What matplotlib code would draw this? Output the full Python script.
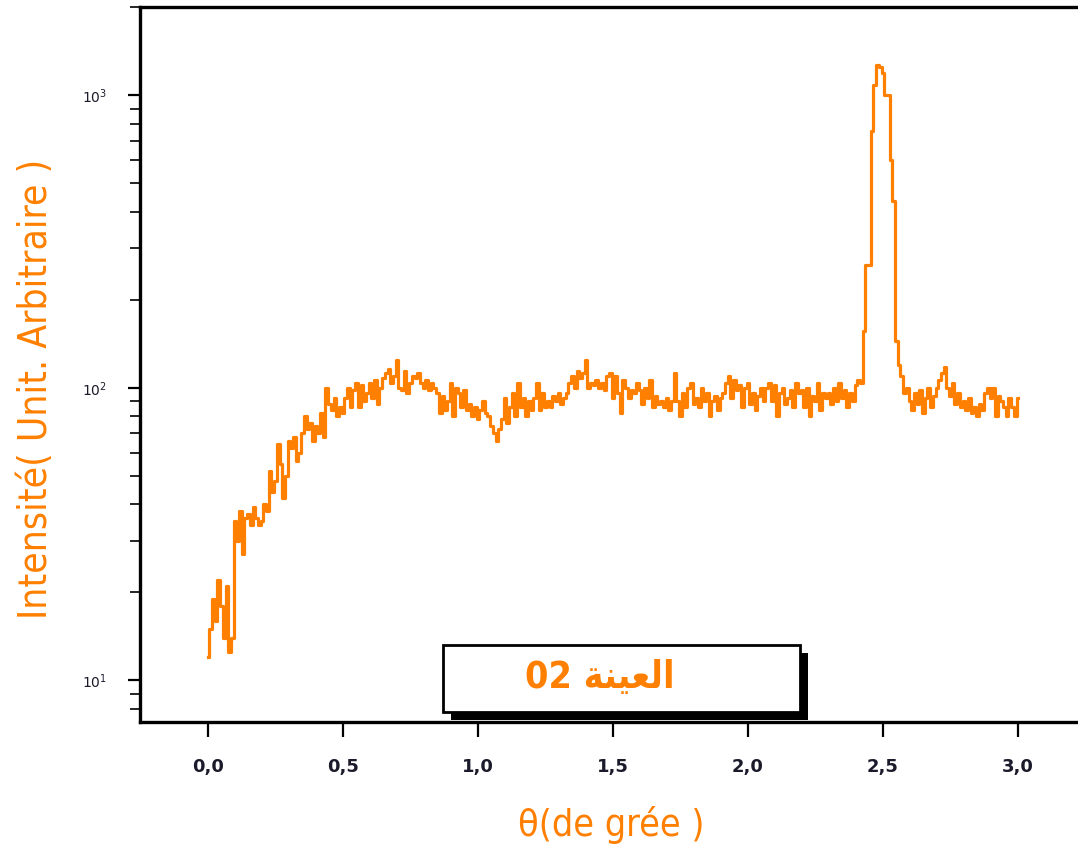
import numpy as np
import matplotlib
matplotlib.use("Agg")
import matplotlib.pyplot as plt
import matplotlib.patheffects as pe
from matplotlib.patches import Rectangle
from matplotlib.ticker import FixedLocator, FixedFormatter

# ==== DATA (one value per 0.01 deg) ====
counts = [
    12, 15, 19, 16, 22, 18, 14, 21, 12.5, 14,
    35, 30, 38, 27, 36,
    37, 34, 39, 36, 34, 35, 40, 38,
    52, 44, 48,
    64, 55, 42, 50,
    66, 62, 68, 56, 60, 70,
    80, 72, 76, 66, 74, 70, 82, 68,
    100, 88, 84, 92, 80, 86, 82,
    92, 100, 86, 98, 104, 86, 102, 90, 96,
    104, 92, 106, 88, 100, 108,
    112, 116, 104, 110, 124, 100, 98, 114, 96, 104, 110, 108,
    112, 104, 100, 106, 98, 104, 100,
    96, 82, 94, 84, 90,
    104, 80, 100, 96, 86, 98, 84,
    88, 80, 86, 78, 84, 90, 82, 80,
    74, 70, 66, 72, 78,
    92, 76, 86, 96, 80,
    104, 86, 92, 80, 90, 84, 92,
    104, 84, 96, 86, 90,
    86, 94, 90, 96, 88, 92, 96,
    104, 110, 100, 114, 108, 112,
    124, 100, 104, 102, 106, 100, 104, 98, 110,
    112, 92, 110, 96, 82, 106, 100, 92, 98,
    96, 104, 98, 88, 100, 92, 106, 86, 94,
    88, 90, 86, 92, 84, 90,
    112, 90, 80, 96, 86, 100,
    104, 88, 92, 86, 100, 90, 96,
    80, 90, 94, 84, 92,
    96, 104, 110, 92, 106, 98, 102,
    86, 100, 104, 88, 96, 84, 94, 100, 90,
    100, 104, 90, 102, 80, 96, 100, 88, 92, 98, 86, 104, 96,
    98, 86, 100, 80, 94, 90, 104, 84, 96, 92,
    96, 88, 100, 90, 104, 92, 98, 86, 96, 90,
    102, 106, 104,
    156, 263, 263, 757, 1085, 1273, 1250, 1190, 1000, 1000, 600, 436, 145, 120, 110,
    96, 100, 90, 84, 96, 88, 98, 82, 92, 100, 86, 94,
    100, 106, 112, 118, 100, 94, 104, 88, 96, 86, 90,
    84, 92, 82, 86, 80, 88, 84, 96, 100, 92,
    100, 80, 94, 90, 86, 80, 92, 86, 80, 92,
]
theta = np.linspace(0.0, 3.0, len(counts))

x_ticks = [0.0, 0.5, 1.0, 1.5, 2.0, 2.5, 3.0]
x_tick_labels = ["0,0", "0,5", "1,0", "1,5", "2,0", "2,5", "3,0"]

# visual order with Arabic presentation forms so it joins without a shaper
legend_label = "02 \uFE94\uFEE8\uFEF4\uFECC\uFEDF\uFE8D"

orange = "#FF8000"

# ==== PLOT ====
fig = plt.figure(figsize=(10.78, 8.51), dpi=100)
ax = fig.add_axes([0.1303, 0.1516, 0.8766, 0.840])

ax.plot(theta, counts, color=orange, lw=2.3, drawstyle="steps-mid")

ax.set_yscale("log")
ax.set_xlim(-0.25, 3.25)
ax.set_ylim(7.2, 2000)

ax.xaxis.set_major_locator(FixedLocator(x_ticks))
ax.xaxis.set_major_formatter(FixedFormatter(x_tick_labels))

for side in ["left", "bottom", "top"]:
    ax.spines[side].set_linewidth(2.4)
ax.spines["right"].set_visible(False)

ax.tick_params(axis="x", which="major", direction="out", length=11, width=1.6,
               pad=15, labelsize=13, labelcolor="#1a1a2a")
ax.tick_params(axis="y", which="major", direction="out", length=9, width=1.6,
               pad=15, labelsize=10, labelcolor="#1a1a2a")
ax.tick_params(axis="y", which="minor", direction="out", length=7, width=1.2)
for lab in ax.get_xticklabels():
    lab.set_fontweight("bold")

ax.set_xlabel("\u03b8(de grée )", color=orange, fontsize=27, fontstretch="condensed")
ax.xaxis.set_label_coords(0.498, -0.117)
ax.set_ylabel("Intensité( Unit. Arbitraire )", color=orange, fontsize=28,
              fontstretch="condensed")
ax.yaxis.set_label_coords(-0.090, 0.466)

# legend box with hard black shadow
box = Rectangle((0.320, 0.014), 0.378, 0.094, transform=ax.transAxes,
                facecolor="white", edgecolor="black", lw=2, clip_on=False, zorder=5)
box.set_path_effects([pe.SimplePatchShadow(offset=(6, -6), shadow_rgbFace="black", alpha=1),
                      pe.Normal()])
ax.add_patch(box)
ax.text(0.486, 0.0615, legend_label, transform=ax.transAxes, ha="center", va="center",
        color=orange, fontsize=27, fontweight="bold", fontstretch="condensed", zorder=6)

plt.savefig("out.png", dpi=100)
plt.close()
